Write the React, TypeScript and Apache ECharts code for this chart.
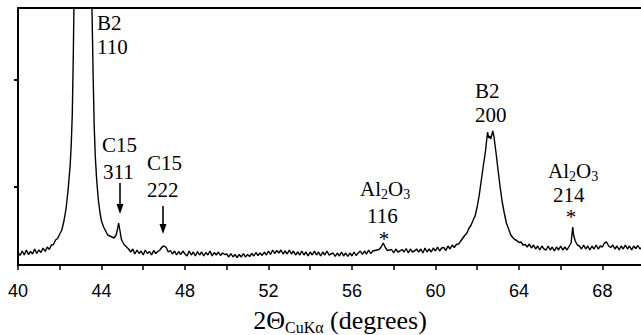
import React, { useEffect, useRef } from "react";
import * as echarts from "echarts";

// XRD pattern: [2θ (degrees), intensity (counts)]
const pattern: [number, number][] = [
  [40.0,130],[40.1,95],[40.2,140],[40.3,100],[40.4,150],[40.5,105],[40.6,135],[40.7,110],[40.8,160],[40.9,115],
  [41.0,150],[41.1,125],[41.2,170],[41.3,135],[41.4,180],[41.5,155],[41.6,200],[41.7,205],[41.8,250],[41.9,265],
  [42.0,310],[42.1,350],[42.2,440],[42.3,560],[42.4,750],[42.5,1000],[42.55,1200],[42.6,1500],[42.65,2100],[42.7,2900],
  [42.8,4800],[42.9,7000],[43.0,8500],[43.1,9000],[43.2,8500],[43.3,7000],[43.4,4800],[43.5,3000],[43.55,2500],[43.6,1900],
  [43.65,1400],[43.7,1100],[43.77,850],[43.85,650],[43.93,520],[44.0,440],[44.1,380],[44.2,340],[44.3,300],[44.4,290],
  [44.5,280],[44.6,270],[44.7,300],[44.76,350],[44.82,420],[44.88,350],[44.95,260],[45.0,235],[45.1,200],[45.2,180],
  [45.3,160],[45.4,130],[45.5,160],[45.6,110],[45.7,150],[45.8,115],[45.9,140],[46.0,100],[46.1,150],[46.2,115],
  [46.3,135],[46.4,100],[46.5,145],[46.6,115],[46.7,135],[46.8,150],[46.9,180],[47.0,190],[47.1,175],[47.2,130],
  [47.3,145],[47.4,110],[47.5,140],[47.6,100],[47.7,135],[47.8,105],[47.9,140],[48.0,110],[48.1,90],[48.2,140],
  [48.3,100],[48.4,130],[48.5,90],[48.6,135],[48.7,100],[48.8,130],[48.9,90],[49.0,125],[49.1,100],[49.2,140],
  [49.3,90],[49.4,125],[49.5,100],[49.6,130],[49.7,95],[49.8,120],[49.9,105],[50.0,110],[50.1,80],[50.2,115],
  [50.3,80],[50.4,105],[50.5,75],[50.6,105],[50.7,80],[50.8,115],[50.9,80],[51.0,105],[51.1,85],[51.2,115],
  [51.3,90],[51.4,125],[51.5,95],[51.6,120],[51.7,95],[51.8,130],[51.9,100],[52.0,140],[52.1,105],[52.2,150],
  [52.3,115],[52.4,145],[52.5,120],[52.6,150],[52.7,110],[52.8,140],[52.9,110],[53.0,150],[53.1,110],[53.2,140],
  [53.3,100],[53.4,130],[53.5,100],[53.6,140],[53.7,100],[53.8,130],[53.9,90],[54.0,130],[54.1,100],[54.2,140],
  [54.3,100],[54.4,130],[54.5,90],[54.6,130],[54.7,100],[54.8,140],[54.9,100],[55.0,110],[55.1,120],[55.2,85],
  [55.3,120],[55.4,90],[55.5,130],[55.6,90],[55.7,120],[55.8,85],[55.9,120],[56.0,90],[56.1,130],[56.2,95],
  [56.3,120],[56.4,140],[56.5,105],[56.6,140],[56.7,110],[56.8,150],[56.9,115],[57.0,140],[57.1,145],[57.2,150],
  [57.3,155],[57.4,180],[57.5,220],[57.6,175],[57.7,145],[57.8,150],[57.9,155],[58.0,120],[58.1,160],[58.2,130],
  [58.3,140],[58.4,155],[58.5,130],[58.6,165],[58.7,120],[58.8,160],[58.9,130],[59.0,140],[59.1,160],[59.2,130],
  [59.3,160],[59.4,120],[59.5,170],[59.6,130],[59.7,160],[59.8,130],[59.9,170],[60.0,140],[60.1,180],[60.2,140],
  [60.3,170],[60.4,175],[60.5,145],[60.6,190],[60.7,160],[60.8,200],[60.9,175],[61.0,205],[61.1,210],[61.2,235],
  [61.3,265],[61.4,295],[61.5,315],[61.6,365],[61.7,395],[61.8,445],[61.9,490],[62.0,580],[62.1,700],[62.2,850],
  [62.3,1000],[62.4,1140],[62.45,1240],[62.5,1330],[62.55,1270],[62.6,1290],[62.65,1260],[62.7,1300],[62.75,1340],[62.8,1290],
  [62.85,1210],[62.9,1130],[63.0,950],[63.1,780],[63.2,630],[63.3,520],[63.4,420],[63.5,365],[63.6,305],[63.7,275],
  [63.8,255],[63.9,245],[64.0,225],[64.1,230],[64.2,200],[64.3,205],[64.4,180],[64.5,210],[64.6,170],[64.7,200],
  [64.8,160],[64.9,190],[65.0,150],[65.1,190],[65.2,160],[65.3,150],[65.4,190],[65.5,150],[65.6,180],[65.7,140],
  [65.8,180],[65.9,150],[66.0,190],[66.1,150],[66.2,180],[66.3,150],[66.4,185],[66.5,220],[66.55,320],[66.58,380],
  [66.62,300],[66.7,240],[66.8,200],[66.9,190],[67.0,160],[67.1,200],[67.2,160],[67.3,190],[67.4,150],[67.5,190],
  [67.6,160],[67.7,200],[67.8,160],[67.9,190],[68.0,180],[68.1,220],[68.2,230],[68.3,190],[68.4,175],[68.5,200],
  [68.6,160],[68.7,190],[68.8,150],[68.9,190],[69.0,160],[69.1,200],[69.2,160],[69.3,190],[69.4,150],[69.5,190],
  [69.6,165],[69.7,195],[69.8,160],[69.9,180],
];

const xMin = 40;
const xMax = 69.85;
const xStep = 2;
const xLabelEvery = 4;
const yMin = 0;
const yMax = 2570;
const yTickValues = [780, 1850];

const serif = "'Liberation Serif', 'Times New Roman', serif";
const sans = "'Liberation Sans', Arial, sans-serif";

let measureCtx: CanvasRenderingContext2D | null = null;
function textWidth(text: string, size: number) {
  if (!measureCtx) measureCtx = document.createElement("canvas").getContext("2d");
  if (!measureCtx) return text.length * size * 0.5;
  measureCtx.font = `${size}px ${serif}`;
  return measureCtx.measureText(text).width;
}

type Part = { t: string; sub?: boolean };

// text with subscripts, built from separate text elements
function formula(parts: Part[], x: number, y: number, size: number, subSize: number, subDrop: number, center = false) {
  const widths = parts.map((p) => textWidth(p.t, p.sub ? subSize : size));
  const total = widths.reduce((a, b) => a + b, 0);
  let cx = center ? x - total / 2 : x;
  const out: any[] = [];
  parts.forEach((p, i) => {
    out.push({
      type: "text",
      x: cx,
      y: p.sub ? y + subDrop : y,
      style: {
        text: p.t,
        fontSize: p.sub ? subSize : size,
        lineHeight: p.sub ? subSize : size,
        fontFamily: serif,
        fill: "#000",
        align: "left",
        verticalAlign: "middle",
      },
    });
    cx += widths[i];
  });
  return out;
}

function label(text: string, x: number, y: number) {
  return {
    type: "text",
    x,
    y,
    style: { text, fontSize: 21, lineHeight: 21, fontFamily: serif, fill: "#000", align: "left", verticalAlign: "middle" },
  };
}

function star(x: number, y: number) {
  return {
    type: "text",
    x,
    y,
    style: { text: "*", fontSize: 21, lineHeight: 14, fontFamily: serif, fill: "#000", align: "center", verticalAlign: "middle" },
  };
}

function arrow(x: number, y1: number, y2: number) {
  return [
    { type: "line", shape: { x1: x, y1, x2: x, y2: y2 - 8 }, style: { stroke: "#000", lineWidth: 1.6 } },
    {
      type: "polygon",
      shape: { points: [[x - 3.5, y2 - 10], [x + 3.5, y2 - 10], [x, y2]] },
      style: { fill: "#000" },
    },
  ];
}

const alumina: Part[] = [{ t: "Al" }, { t: "2", sub: true }, { t: "O" }, { t: "3", sub: true }];
const xTitle: Part[] = [{ t: "2Θ" }, { t: "CuKα", sub: true }, { t: " (degrees)" }];

export default function App() {
  const ref = useRef<HTMLDivElement>(null);
  useEffect(() => {
    if (!ref.current) return;
    const chart = echarts.init(ref.current, null, { renderer: "svg" });
    chart.setOption({
      animation: false,
      backgroundColor: "#fff",
      grid: { left: 18, right: 0, top: 8, bottom: 70 },
      xAxis: [
        {
          type: "value",
          min: xMin,
          max: xMax,
          interval: xStep,
          axisLine: { show: true, lineStyle: { color: "#000", width: 2 } },
          axisTick: { show: true, inside: false, length: 5, lineStyle: { color: "#000", width: 1.5 } },
          axisLabel: {
            show: true,
            interval: 0,
            margin: 17,
            showMaxLabel: false,
            color: "#000",
            fontFamily: sans,
            fontSize: 18,
            formatter: (v: number) => (Math.abs(v % xLabelEvery) < 1e-6 ? String(v) : ""),
          },
          splitLine: { show: false },
        },
        {
          type: "value",
          position: "top",
          min: xMin,
          max: xMax,
          axisLine: { show: true, onZero: false, lineStyle: { color: "#000", width: 2 } },
          axisTick: { show: false },
          axisLabel: { show: false },
          splitLine: { show: false },
        },
      ],
      yAxis: {
        type: "value",
        min: yMin,
        max: yMax,
        axisLine: { show: true, onZero: false, lineStyle: { color: "#000", width: 2 } },
        axisTick: { show: true, inside: false, length: 4, customValues: yTickValues, lineStyle: { color: "#000", width: 2 } },
        axisLabel: { show: false },
        splitLine: { show: false },
      },
      series: [
        {
          type: "line",
          data: pattern,
          xAxisIndex: 0,
          symbol: "none",
          clip: true,
          lineStyle: { color: "#000", width: 1.4 },
        },
      ],
      graphic: [
        label("B2", 97, 23),
        label("110", 97, 47),
        label("C15", 102, 145),
        label("311", 103, 172),
        ...arrow(120, 183, 214),
        label("C15", 147, 163),
        label("222", 147, 190),
        ...arrow(163, 206, 234),
        ...formula(alumina, 360, 189, 21, 14, 5),
        label("116", 367, 216),
        star(384, 239),
        label("B2", 475, 91),
        label("200", 475, 115),
        ...formula(alumina, 548, 171, 21, 14, 5),
        label("214", 553, 195),
        star(571, 217),
        ...formula(xTitle, 340, 320, 26, 16, 7, true),
      ],
    });
    return () => chart.dispose();
  }, []);
  return <div ref={ref} style={{ width: 641, height: 335, position: "absolute", left: 0, top: 0 }} />;
}
